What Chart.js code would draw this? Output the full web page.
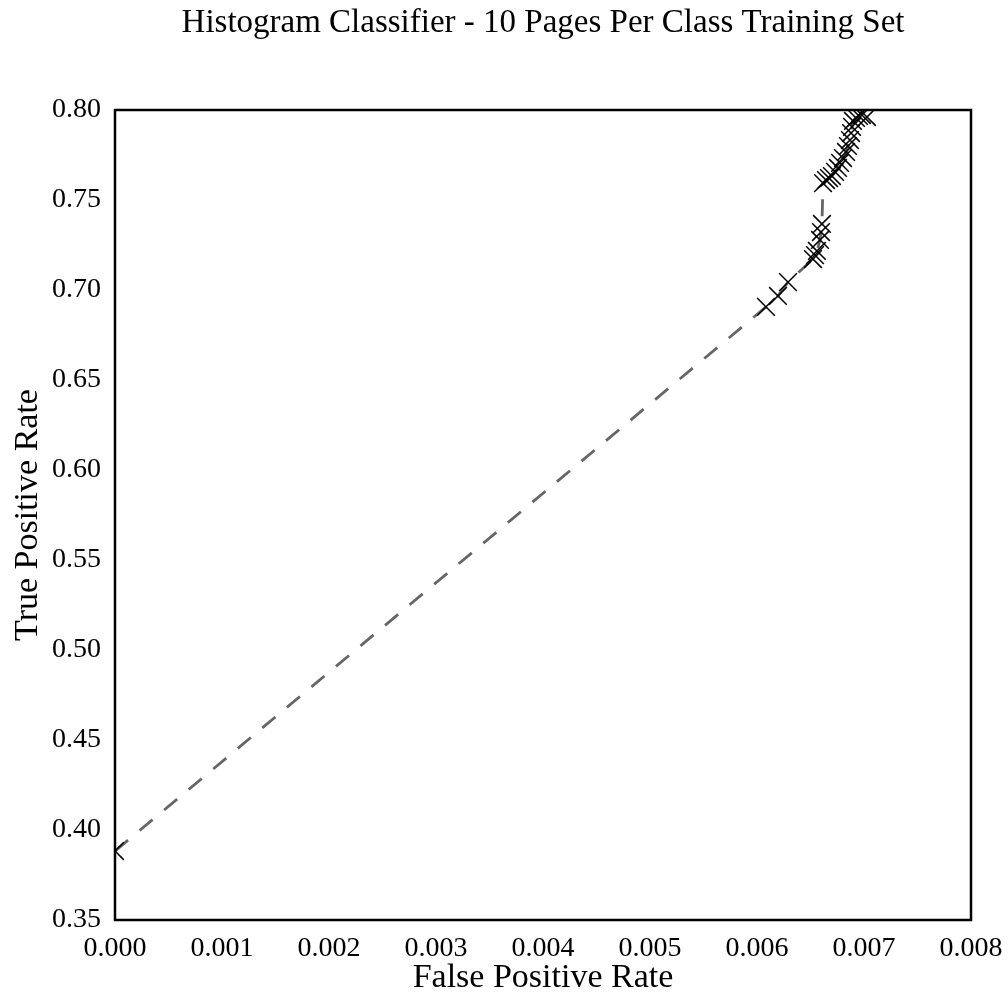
<!DOCTYPE html>
<html>
<head>
<meta charset="utf-8">
<script src="https://cdn.jsdelivr.net/npm/chart.js@4.4.1/dist/chart.umd.min.js"></script>
<style>
  html, body { margin: 0; padding: 0; background: #fff; }
  #wrap { width: 1008px; height: 998px; }
</style>
</head>
<body>
<div id="wrap"><canvas id="roc"></canvas></div>
<script>
// ROC points
const fprValues = [
    0.0000, 0.006084, 0.006196, 0.00629, 0.006523, 0.006542, 0.00656, 0.006589, 0.006598, 0.006607,
    0.006617, 0.006645, 0.006673, 0.0067, 0.006729, 0.006757, 0.006776, 0.006804, 0.006832, 0.00685,
    0.006869, 0.006879, 0.006888, 0.006897, 0.006925, 0.006953, 0.006981, 0.007028
];
const tprValues = [
    0.3883, 0.6906, 0.6967, 0.7044, 0.7172, 0.7194, 0.7217, 0.7278, 0.7322, 0.7367,
    0.7594, 0.7611, 0.7622, 0.7633, 0.7656, 0.7678, 0.7706, 0.7733, 0.7767, 0.7800,
    0.7833, 0.7872, 0.7906, 0.7939, 0.7956, 0.7967, 0.7972, 0.7961
];
const xTicks = { min: 0, max: 0.008, step: 0.001 };
const yTicks = { min: 0.35, max: 0.80, step: 0.05 };
const chartTitle = 'Histogram Classifier - 10 Pages Per Class Training Set';

const serif = "'Liberation Serif', 'DejaVu Serif', serif";

// frame round the plot area, title centred over the plot area (not the canvas)
const frameBox = {
    id: 'frameBox',
    afterDraw(chart) {
        const { ctx, chartArea: a } = chart;
        ctx.save();
        ctx.strokeStyle = '#000';
        ctx.lineWidth = 2.5;
        ctx.strokeRect(a.left, a.top, a.right - a.left, a.bottom - a.top);
        ctx.fillStyle = '#000';
        ctx.font = '33px ' + serif;
        ctx.textAlign = 'center';
        ctx.textBaseline = 'middle';
        ctx.fillText(chartTitle, (a.left + a.right) / 2, 23);
        ctx.restore();
    }
};

const points = fprValues.map((x, i) => ({ x: x, y: tprValues[i] }));

new Chart(document.getElementById('roc'), {
    type: 'scatter',
    data: {
        datasets: [{
            data: points,
            showLine: true,
            borderColor: '#666666',
            borderWidth: 2.8,
            borderDash: [17, 15],
            pointStyle: 'crossRot',
            pointRadius: 12.5,
            pointBorderColor: '#000',
            pointBorderWidth: 1.5,
            pointBackgroundColor: '#000'
        }]
    },
    options: {
        responsive: true, maintainAspectRatio: false, animation: false,
        layout: { padding: { left: 0, right: 37, top: 110, bottom: 0 } },
        plugins: {
            legend: { display: false },
            tooltip: { enabled: false },
            title: { display: false }
        },
        scales: {
            x: {
                type: 'linear', min: xTicks.min, max: xTicks.max,
                grid: { display: false },
                border: { display: false },
                ticks: {
                    stepSize: xTicks.step, color: '#000', padding: 4,
                    font: { family: serif, size: 28 },
                    callback: v => v.toFixed(3)
                },
                title: {
                    display: true, text: 'False Positive Rate', color: '#000',
                    font: { family: serif, size: 34 }, padding: { top: 2, bottom: 0 }
                },
                afterFit: s => { s.height = 78; }
            },
            y: {
                type: 'linear', min: yTicks.min, max: yTicks.max,
                grid: { display: false },
                border: { display: false },
                ticks: {
                    stepSize: yTicks.step, color: '#000', padding: 6,
                    font: { family: serif, size: 28 },
                    callback: v => v.toFixed(2)
                },
                title: {
                    display: true, text: 'True Positive Rate', color: '#000',
                    font: { family: serif, size: 34 }, padding: { top: 8, bottom: 2 }
                },
                afterFit: s => { s.width = 115; }
            }
        }
    },
    plugins: [frameBox]
});
</script>
</body>
</html>
